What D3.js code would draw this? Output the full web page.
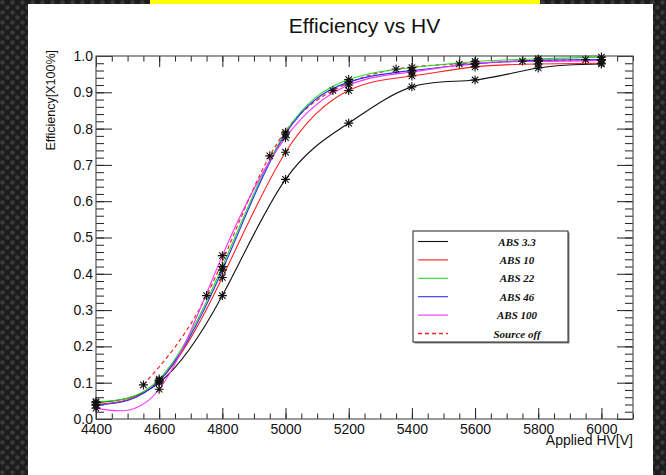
<!DOCTYPE html>
<html>
<head>
<meta charset="utf-8">
<script src="https://cdn.jsdelivr.net/npm/d3@7"></script>
<style>
body { margin: 0; background: #222; }
svg { display: block; }
.tick text { font-family: "Liberation Sans", Arial, sans-serif; font-size: 14px; fill: #111; }
.tick line { stroke: #222; }
</style>
</head>
<body>
<div id="chart"></div>
<script>

// applied HV of the absorber runs
var hv = [4400, 4600, 4800, 5000, 5200, 5400, 5600, 5800, 6000]

var abs33  = [0.045, 0.100, 0.340, 0.660, 0.815, 0.915, 0.934, 0.967, 0.978]
var abs10  = [0.040, 0.105, 0.390, 0.735, 0.905, 0.945, 0.970, 0.978, 0.980]
var abs22  = [0.048, 0.110, 0.420, 0.790, 0.935, 0.968, 0.985, 0.992, 0.997]
var abs46  = [0.038, 0.105, 0.410, 0.785, 0.928, 0.960, 0.978, 0.988, 0.990]
var abs100 = [0.030, 0.082, 0.450, 0.775, 0.920, 0.956, 0.980, 0.985, 0.988]

// source off run is taken 50 V in between
var offHV  = [4550, 4750, 4950, 5150, 5350, 5550, 5750, 5950]
var offEff = [0.094, 0.340, 0.725, 0.905, 0.964, 0.978, 0.986, 0.990]

var legendLabels = ["ABS 3.3", "ABS 10", "ABS 22", "ABS 46", "ABS 100", "Source off"]
var colours = ["#111111", "#ff2020", "#22dd22", "#3030ff", "#ff30ff", "#ff2020"]

var xTicks = [4400, 4600, 4800, 5000, 5200, 5400, 5600, 5800, 6000]
var yTicks = [0, 0.1, 0.2, 0.3, 0.4, 0.5, 0.6, 0.7, 0.8, 0.9, 1.0]

var width = 666, height = 475
var mLeft = 96, mRight = 633, mTop = 56, mBottom = 419

var svg = d3.select("#chart").append("svg")
	.attr("width", width)
	.attr("height", height)

// dotted dark slide background
var defs = svg.append("defs")
var pat = defs.append("pattern")
	.attr("id", "dots")
	.attr("width", 10).attr("height", 10)
	.attr("patternUnits", "userSpaceOnUse")
pat.append("rect").attr("width", 10).attr("height", 10).attr("fill", "#1c1c1c")
pat.append("circle").attr("cx", 2.5).attr("cy", 2.5).attr("r", 2.3).attr("fill", "#3a3a3a")
pat.append("circle").attr("cx", 7.5).attr("cy", 7.5).attr("r", 2.3).attr("fill", "#3a3a3a")

svg.append("rect").attr("width", width).attr("height", height).attr("fill", "url(#dots)")
svg.append("rect").attr("x", 28).attr("y", 4).attr("width", 625).attr("height", 471).attr("fill", "#fff")
svg.append("rect").attr("x", 150).attr("y", 0).attr("width", 390).attr("height", 4).attr("fill", "#ffff00")

var x = d3.scaleLinear().domain([4400, 6100]).range([mLeft, mRight])
var y = d3.scaleLinear().domain([0, 1]).range([mBottom, mTop])

var xMinor = d3.range(4400, 6101, 50)
var yMinor = d3.range(0, 1.001, 0.02)

function noDomain(g) { g.select(".domain").remove() }

// x axis, ticks inside the frame
svg.append("g").attr("transform", `translate(0,${mBottom})`)
	.call(d3.axisBottom(x).tickValues(xMinor).tickSize(-5.5).tickFormat(""))
	.call(noDomain)
svg.append("g").attr("transform", `translate(0,${mBottom})`)
	.call(d3.axisBottom(x).tickValues(xTicks).tickSize(-11).tickPadding(5).tickFormat(d3.format("d")))
	.call(noDomain)
svg.append("g").attr("transform", `translate(0,${mTop})`)
	.call(d3.axisTop(x).tickValues(xMinor).tickSize(-5.5).tickFormat(""))
	.call(noDomain)
svg.append("g").attr("transform", `translate(0,${mTop})`)
	.call(d3.axisTop(x).tickValues(xTicks).tickSize(-11).tickFormat(""))
	.call(noDomain)

// y axis
svg.append("g").attr("transform", `translate(${mLeft},0)`)
	.call(d3.axisLeft(y).tickValues(yMinor).tickSize(-8).tickFormat(""))
	.call(noDomain)
svg.append("g").attr("transform", `translate(${mLeft},0)`)
	.call(d3.axisLeft(y).tickValues(yTicks).tickSize(-16).tickPadding(3).tickFormat(d3.format(".1f")))
	.call(noDomain)
svg.append("g").attr("transform", `translate(${mRight},0)`)
	.call(d3.axisRight(y).tickValues(yMinor).tickSize(-8).tickFormat(""))
	.call(noDomain)
svg.append("g").attr("transform", `translate(${mRight},0)`)
	.call(d3.axisRight(y).tickValues(yTicks).tickSize(-16).tickFormat(""))
	.call(noDomain)

svg.append("rect")
	.attr("x", mLeft).attr("y", mTop)
	.attr("width", mRight - mLeft).attr("height", mBottom - mTop)
	.attr("fill", "none").attr("stroke", "#555").attr("stroke-width", 1.2)

// curves
var line = d3.line()
	.x(d => x(d[0]))
	.y(d => y(d[1]))
	.curve(d3.curveNatural)

var series = [abs33, abs10, abs22, abs46, abs100].map(vals => hv.map((h, i) => [h, vals[i]]))
var offSeries = offHV.map((h, i) => [h, offEff[i]])

var plot = svg.append("g")

plot.append("path")
	.datum(offSeries)
	.attr("d", line)
	.attr("fill", "none")
	.attr("stroke", colours[5])
	.attr("stroke-width", 1.2)
	.attr("stroke-dasharray", "4,3")

series.forEach(function(s, i) {
	plot.append("path")
		.datum(s)
		.attr("d", line)
		.attr("fill", "none")
		.attr("stroke", colours[i])
		.attr("stroke-width", 1.1)
})

// star markers
var r = 4.5, a = 3.2
var star = `M${-r},0h${2*r}M0,${-r}v${2*r}M${-a},${-a}l${2*a},${2*a}M${-a},${a}l${2*a},${-2*a}`
var allPoints = series.flat().concat(offSeries)

plot.selectAll(".mark")
	.data(allPoints)
	.enter().append("path")
	.attr("class", "mark")
	.attr("transform", d => `translate(${x(d[0])},${y(d[1])})`)
	.attr("d", star)
	.attr("stroke", "#111")
	.attr("stroke-width", 1.1)
	.attr("fill", "none")

// titles
svg.append("text")
	.attr("x", (mLeft + mRight) / 2)
	.attr("y", 33)
	.attr("text-anchor", "middle")
	.style("font-family", "Liberation Sans, Arial, sans-serif")
	.style("font-size", "21px")
	.attr("fill", "#111")
	.text("Efficiency vs HV")

svg.append("text")
	.attr("x", mRight)
	.attr("y", 445)
	.attr("text-anchor", "end")
	.style("font-family", "Liberation Sans, Arial, sans-serif")
	.style("font-size", "14px")
	.attr("fill", "#111")
	.text("Applied HV[V]")

svg.append("text")
	.attr("transform", "translate(54.5,50) rotate(-90)")
	.attr("text-anchor", "end")
	.style("font-family", "Liberation Sans, Arial, sans-serif")
	.style("font-size", "12.5px")
	.attr("fill", "#111")
	.text("Efficiency[X100%]")

// legend
var lg = svg.append("g").attr("transform", "translate(413,231)")
lg.append("rect")
	.attr("x", 1.5).attr("y", 1.5)
	.attr("width", 155).attr("height", 111)
	.attr("fill", "#888")
lg.append("rect")
	.attr("width", 155).attr("height", 111)
	.attr("fill", "#fff")
	.attr("stroke", "#222")
	.attr("stroke-width", 1)

legendLabels.forEach(function(label, i) {
	var ly = 10.5 + i * 18.4
	lg.append("line")
		.attr("x1", 5).attr("x2", 35)
		.attr("y1", ly).attr("y2", ly)
		.attr("stroke", colours[i])
		.attr("stroke-width", i == 5 ? 1.4 : 1.1)
		.attr("stroke-dasharray", i == 5 ? "4,3" : null)
	lg.append("text")
		.attr("x", 104)
		.attr("y", ly + 4)
		.attr("text-anchor", "middle")
		.style("font-family", "Liberation Serif, Times New Roman, serif")
		.style("font-weight", "bold")
		.style("font-style", "italic")
		.style("font-size", "11px")
		.attr("fill", "#111")
		.text(label)
})

</script>
</body>
</html>
